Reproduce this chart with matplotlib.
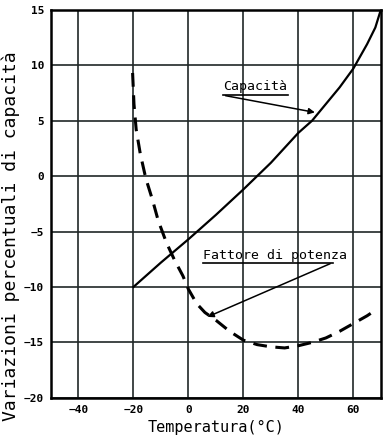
import matplotlib
matplotlib.use('Agg')
import matplotlib.pyplot as plt

# dati
temp_cap = [-20, -10, 0, 10, 20, 25, 30, 40, 45, 50, 55, 60, 65, 68, 70]
capacita = [-10, -7.8, -5.7, -3.5, -1.2, 0, 1.2, 3.9, 5.0, 6.5, 8.0, 9.7, 11.9, 13.4, 15]

temp_pf = [-20.3, -19.8, -19, -17.5, -15.5, -13, -11, -8, -5, -2, 0, 3, 6, 10, 15, 20,
           25, 30, 35, 40, 45, 50, 55, 60, 65, 68]
fattore = [9.3, 6.5, 4.2, 2.0, -0.2, -2.2, -4.0, -6.0, -7.6, -9.0, -10.2, -11.5, -12.3,
           -13.0, -14.0, -14.8, -15.2, -15.4, -15.5, -15.3, -15.0, -14.6, -14.0, -13.3,
           -12.6, -12.1]

xticks = [-40, -20, 0, 20, 40, 60]
yticks = [-20, -15, -10, -5, 0, 5, 10, 15]

fig = plt.figure(figsize=(3.89, 4.45), dpi=100)
ax = fig.add_axes([0.131, 0.106, 0.848, 0.872])

ax.plot(temp_cap, capacita, color='black', linewidth=1.6)
ax.plot(temp_pf, fattore, color='black', linewidth=2.2, dashes=(4.5, 2.8))

ax.set_xlim(-50, 70)
ax.set_ylim(-20, 15)
ax.set_xticks(xticks)
ax.set_yticks(yticks)
ax.grid(True, color='#202828', linewidth=1.2)
ax.tick_params(length=0, pad=5)
for lab in ax.get_xticklabels() + ax.get_yticklabels():
    lab.set_fontfamily('DejaVu Sans Mono')
    lab.set_fontweight('bold')
    lab.set_fontsize(8)
for s in ax.spines.values():
    s.set_linewidth(1.8)

# etichette con frecce
ax.text(12.5, 7.8, 'Capacità', fontsize=9.5, family='DejaVu Sans Mono', va='baseline')
ax.plot([12.5, 36.3], [7.3, 7.3], color='black', linewidth=1.2)
ax.annotate('', xy=(47.0, 5.7), xytext=(12.5, 7.3),
            arrowprops=dict(arrowstyle='-|>', color='black', lw=1.1, mutation_scale=9))

ax.text(5.3, -7.45, 'Fattore di potenza', fontsize=9.5, family='DejaVu Sans Mono', va='baseline')
ax.plot([5.3, 52.5], [-7.8, -7.8], color='black', linewidth=1.2)
ax.annotate('', xy=(6.0, -12.8), xytext=(52.5, -7.8),
            arrowprops=dict(arrowstyle='-|>', color='black', lw=1.1, mutation_scale=9))

ax.set_xlabel('Temperatura(°C)', fontsize=11, family='DejaVu Sans Mono', labelpad=4)
ax.set_ylabel('Variazioni percentuali di capacità', fontsize=13,
              family='DejaVu Sans Mono')
ax.yaxis.set_label_coords(-0.094, 0.418)

fig.savefig('out.png', dpi=100)
